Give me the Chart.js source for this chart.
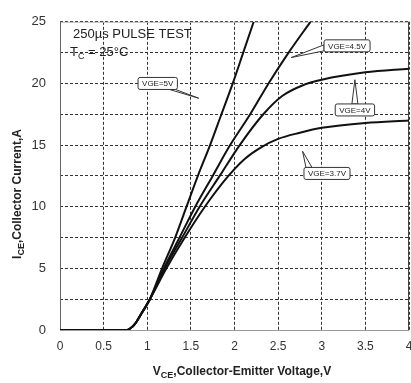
<!DOCTYPE html>
<html>
<head>
<meta charset="utf-8">
<script src="https://cdn.jsdelivr.net/npm/chart.js@4/dist/chart.umd.min.js"></script>
<style>
  html, body { margin: 0; padding: 0; background: #fff; }
  #wrap { width: 411px; height: 383px; position: relative; }
</style>
</head>
<body>
<div id="wrap"><canvas id="chart"></canvas></div>
<script>
// Output characteristics (V_CE in V, I_CE in A)
const VCE_5V0 = [0, 0.77, 0.8, 0.86, 0.93, 1.03, 1.17, 1.32, 1.45, 1.58, 1.72, 1.85, 1.98, 2.1, 2.22];
const ICE_5V0 = [0, 0, 0.1, 0.5, 1.3, 2.5, 5, 7.5, 10, 12.5, 15, 17.5, 20, 22.5, 25];

const VCE_4V5 = [0, 0.77, 0.8, 0.86, 0.93, 1.03, 1.19, 1.37, 1.55, 1.75, 1.95, 2.18, 2.39, 2.62, 2.87];
const ICE_4V5 = [0, 0, 0.1, 0.5, 1.3, 2.5, 5, 7.5, 10, 12.5, 15, 17.5, 20, 22.5, 25];

const VCE_4V0 = [0, 0.77, 0.8, 0.86, 0.93, 1.03, 1.2, 1.4, 1.6, 1.83, 2.06, 2.33, 2.55, 2.8, 3.0, 3.5, 4.0];
const ICE_4V0 = [0, 0, 0.1, 0.5, 1.3, 2.5, 5, 7.5, 10, 12.5, 15, 17.5, 19.0, 19.9, 20.3, 20.9, 21.2];

const VCE_3V7 = [0, 0.77, 0.8, 0.86, 0.93, 1.03, 1.22, 1.43, 1.66, 1.93, 2.12, 2.3, 2.5, 2.75, 3.0, 3.5, 4.0];
const ICE_3V7 = [0, 0, 0.1, 0.5, 1.3, 2.5, 5, 7.5, 10, 12.5, 13.9, 14.8, 15.5, 16.0, 16.4, 16.8, 17.0];

const X_MIN = 0, X_MAX = 4, X_STEP = 0.5;
const Y_MIN = 0, Y_MAX = 25, Y_STEP = 2.5, Y_LABEL_STEP = 5;

// Callout labels: text, box centre and pointer tip in data units
const CALLOUTS = [
  { text: 'VGE=5V',   bx: 1.12, by: 20.0,  tx: 1.59, ty: 18.8 },
  { text: 'VGE=4.5V', bx: 3.29, by: 23.05, tx: 2.65, ty: 22.1 },
  { text: 'VGE=4V',   bx: 3.38, by: 17.85, tx: 3.38, ty: 20.3 },
  { text: 'VGE=3.7V', bx: 3.06, by: 12.7,  tx: 2.78, ty: 14.5 },
];

const FONT = '"Liberation Sans", Arial, sans-serif';

const pts = (xs, ys) => xs.map((x, i) => ({ x, y: ys[i] }));

function curve(label, xs, ys) {
  return {
    label,
    data: pts(xs, ys),
    borderColor: '#111',
    borderWidth: 2,
    pointRadius: 0,
    fill: false,
    showLine: true,
    cubicInterpolationMode: 'monotone',
  };
}

// Text with a subscript part, drawn left to right from (x, y)
function drawSub(ctx, parts, x, y, size, bold) {
  let cx = x;
  parts.forEach(([txt, sub]) => {
    const fs = sub ? Math.round(size * 0.72) : size;
    ctx.font = `${bold ? 'bold ' : ''}${fs}px ${FONT}`;
    ctx.fillText(txt, cx, sub ? y + size * 0.22 : y);
    cx += ctx.measureText(txt).width;
  });
  return cx - x;
}
function measureSub(ctx, parts, size, bold) {
  let w = 0;
  parts.forEach(([txt, sub]) => {
    const fs = sub ? Math.round(size * 0.72) : size;
    ctx.font = `${bold ? 'bold ' : ''}${fs}px ${FONT}`;
    w += ctx.measureText(txt).width;
  });
  return w;
}

function roundRect(ctx, x, y, w, h, r) {
  ctx.beginPath();
  ctx.moveTo(x + r, y);
  ctx.arcTo(x + w, y, x + w, y + h, r);
  ctx.arcTo(x + w, y + h, x, y + h, r);
  ctx.arcTo(x, y + h, x, y, r);
  ctx.arcTo(x, y, x + w, y, r);
  ctx.closePath();
}

const decorPlugin = {
  id: 'decor',
  beforeDatasetsDraw(chart) {
    // solid frame round the plot area
    const { ctx, chartArea: a } = chart;
    ctx.save();
    ctx.lineWidth = 1;
    ctx.strokeStyle = '#bbb';
    ctx.beginPath(); ctx.moveTo(a.left, a.top + 0.5); ctx.lineTo(a.right, a.top + 0.5); ctx.stroke();
    ctx.strokeStyle = '#999';
    ctx.beginPath(); ctx.moveTo(a.left, a.bottom + 0.5); ctx.lineTo(a.right, a.bottom + 0.5); ctx.stroke();
    ctx.strokeStyle = '#444';
    ctx.beginPath(); ctx.moveTo(a.right - 0.5, a.top); ctx.lineTo(a.right - 0.5, a.bottom); ctx.stroke();
    ctx.strokeStyle = '#666';
    ctx.beginPath(); ctx.moveTo(a.left + 0.5, a.top); ctx.lineTo(a.left + 0.5, a.bottom); ctx.stroke();
    ctx.restore();
  },
  afterDraw(chart) {
    const { ctx, scales: { x, y }, chartArea: a } = chart;
    ctx.save();
    ctx.fillStyle = '#222';
    ctx.textBaseline = 'alphabetic';
    ctx.textAlign = 'left';

    // test conditions
    ctx.font = `13px ${FONT}`;
    ctx.fillText('250\u00b5s PULSE TEST', a.left + 13, 38);
    drawSub(ctx, [['T', false], ['C', true], [' = 25\u00b0C', false]], a.left + 10, 56, 13, false);

    // callouts
    CALLOUTS.forEach(c => {
      ctx.font = `8px ${FONT}`;
      const w = ctx.measureText(c.text).width + 8, h = 12;
      const cx = x.getPixelForValue(c.bx), cy = y.getPixelForValue(c.by);
      const bx = cx - w / 2, by = cy - h / 2;
      const tx = x.getPixelForValue(c.tx), ty = y.getPixelForValue(c.ty);
      const dx = tx - cx, dy = ty - cy;
      let p1, p2;
      if (Math.abs(dx) / w > Math.abs(dy) / h) {
        const sx = dx > 0 ? bx + w : bx;
        const sy = Math.min(Math.max(ty, by + 4), by + h - 4);
        p1 = [sx, sy - 3]; p2 = [sx, sy + 3];
      } else {
        const sy = dy > 0 ? by + h : by;
        const sx = Math.min(Math.max(tx, bx + 5), bx + w - 5);
        p1 = [sx - 3, sy]; p2 = [sx + 3, sy];
      }
      ctx.beginPath();
      ctx.moveTo(p1[0], p1[1]);
      ctx.lineTo(tx, ty);
      ctx.lineTo(p2[0], p2[1]);
      ctx.closePath();
      ctx.fillStyle = '#fff';
      ctx.fill();
      ctx.strokeStyle = '#333';
      ctx.lineWidth = 1;
      ctx.stroke();
      roundRect(ctx, bx, by, w, h, 2);
      ctx.fillStyle = '#fff';
      ctx.fill();
      ctx.stroke();
      ctx.fillStyle = '#222';
      ctx.textAlign = 'center';
      ctx.textBaseline = 'middle';
      ctx.fillText(c.text, cx, cy + 0.5);
      ctx.textAlign = 'left';
      ctx.textBaseline = 'alphabetic';
    });

    // axis titles with subscripts
    ctx.fillStyle = '#222';
    const xParts = [['V', false], ['CE', true], [',Collector-Emitter Voltage,V', false]];
    const xw = measureSub(ctx, xParts, 12, true);
    drawSub(ctx, xParts, 242 - xw / 2, 375, 12, true);

    const yParts = [['I', false], ['CE', true], [',Collector Current,A', false]];
    const yw = measureSub(ctx, yParts, 12, true);
    ctx.translate(21, 194);
    ctx.rotate(-Math.PI / 2);
    drawSub(ctx, yParts, -yw / 2, 0, 12, true);
    ctx.restore();
  }
};

new Chart(document.getElementById('chart'), {
  type: 'scatter',
  data: {
    datasets: [
      curve('VGE=5V', VCE_5V0, ICE_5V0),
      curve('VGE=4.5V', VCE_4V5, ICE_4V5),
      curve('VGE=4V', VCE_4V0, ICE_4V0),
      curve('VGE=3.7V', VCE_3V7, ICE_3V7),
    ]
  },
  plugins: [decorPlugin],
  options: {
    responsive: true,
    maintainAspectRatio: false,
    animation: false,
    layout: { padding: { left: 0, right: 2, top: 15, bottom: 0 } },
    plugins: { legend: { display: false }, tooltip: { enabled: false } },
    scales: {
      x: {
        type: 'linear',
        min: X_MIN, max: X_MAX,
        afterFit: s => { s.height = 53; s.paddingLeft = 0; s.paddingRight = 0; },
        ticks: {
          stepSize: X_STEP, padding: 9, color: '#333', font: { family: FONT, size: 12 },
          callback: v => String(v),
        },
        grid: { color: '#333', drawTicks: false },
        border: { display: false, dash: [3, 2] },
      },
      y: {
        type: 'linear',
        min: Y_MIN, max: Y_MAX,
        afterFit: s => { s.width = 60; },
        ticks: {
          stepSize: Y_STEP, padding: 14, color: '#333', font: { family: FONT, size: 13 },
          callback: v => (v % Y_LABEL_STEP === 0 ? String(v) : ''),
        },
        grid: { color: '#333', drawTicks: false },
        border: { display: false, dash: [3, 2] },
      },
    }
  }
});
</script>
</body>
</html>
